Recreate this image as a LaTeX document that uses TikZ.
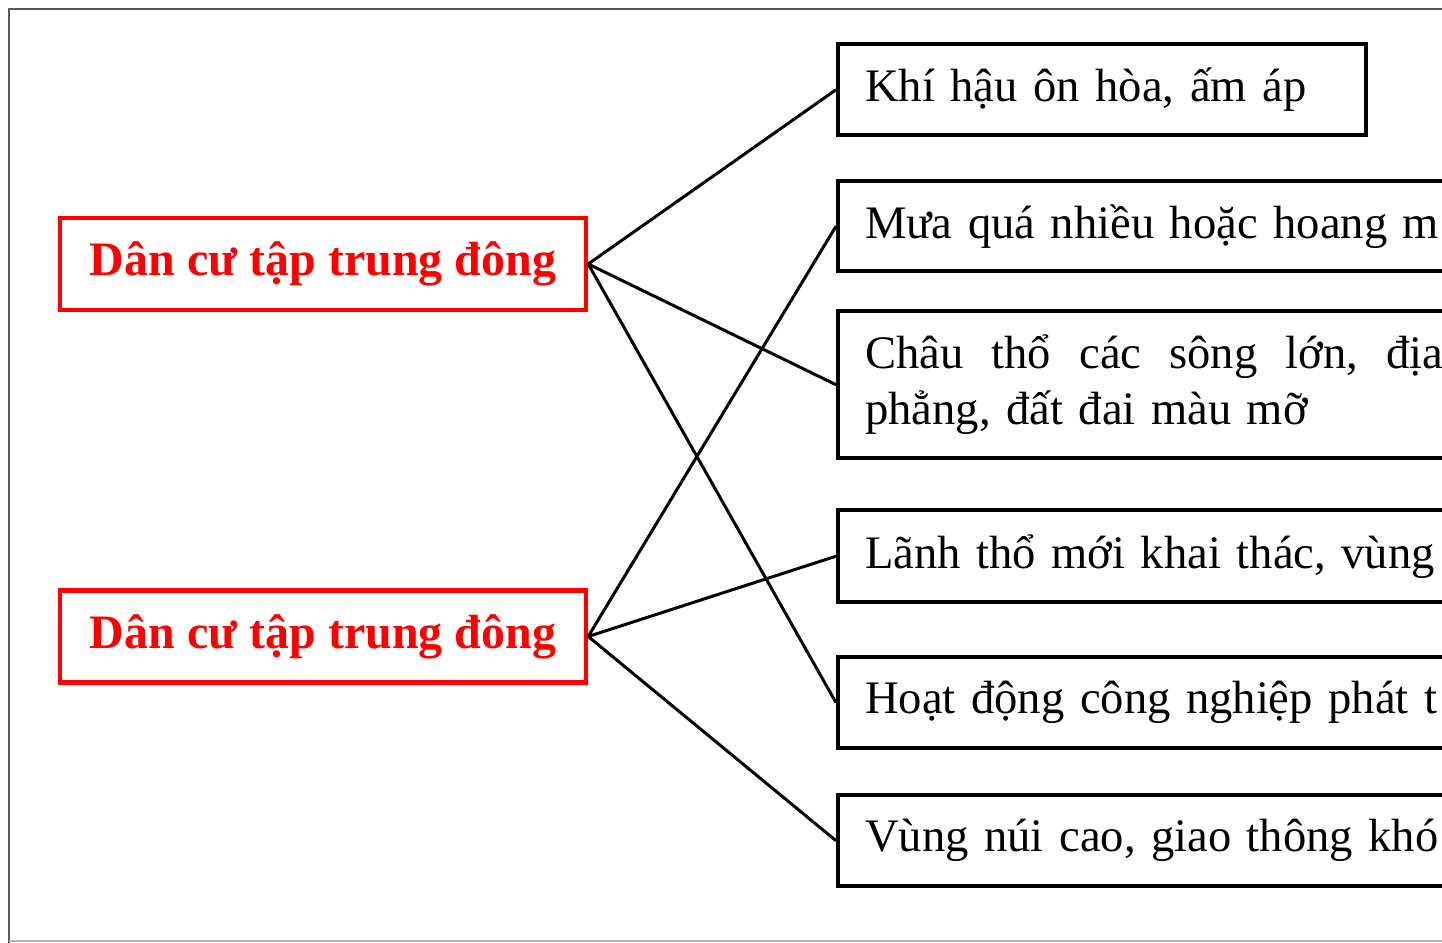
\documentclass[tikz,border=0pt]{standalone}
\usepackage{fontspec}
\setmainfont{Liberation Serif}
\usepackage{tikz}

\begin{document}
\begin{tikzpicture}[
            x = 0.5pt, y = -0.5pt, % one unit = one pixel
            every edge/.style = {draw=black, line width=1.5pt}, % connector style
            redbox/.style = {shape=rectangle, draw=red, line width=2.2pt, text=red,
                minimum width=263pt, minimum height=46pt,
                font=\fontsize{24}{28}\selectfont\bfseries},
            blackbox/.style = {shape=rectangle, draw=black, line width=2.2pt, anchor=north west,
                minimum width=400pt, text width=373pt, inner xsep=13.5pt, align=left,
                font=\fontsize{23.3}{28}\selectfont}
        ]
\useasboundingbox (0,0) rectangle (1442,943);
\clip (0,0) rectangle (1442,943);

% outer frame
\draw[black!65, line width=1pt] (9,960) -- (9,9) -- (1460,9);
\draw[black!30, line width=1pt] (9,941) -- (1460,941);

% left boxes
\node[redbox] (D1) at (323,264) {Dân cư tập trung đông};
\node[redbox] (D2) at (323,636.5) {Dân cư tập trung đông};

% right boxes
\node[blackbox, minimum width=264pt, text width=237pt, minimum height=45.5pt] (K) at (836,42) {Khí hậu ôn hòa, ấm áp};
\node[blackbox, minimum height=45pt] (M) at (836,179) {Mưa quá nhiều hoặc hoang m};
\node[blackbox, minimum height=73.5pt] (C) at (836,309)
    {\hbox to 289pt{Châu\hfill thổ\hfill các\hfill sông\hfill lớn,\hfill địa}\\ phẳng, đất đai màu mỡ};
\node[blackbox, minimum height=46pt] (L) at (836,508) {Lãnh thổ mới khai thác, vùng};
\node[blackbox, minimum height=45.5pt] (H) at (836,655) {Hoạt động công nghiệp phát t};
\node[blackbox, minimum height=45.5pt] (V) at (836,793) {Vùng núi cao, giao thông khó};

 \path (D1.east) edge (K.west);
 \path (D1.east) edge (C.west);
 \path (D1.east) edge (H.west);
 \path (D2.east) edge (M.west);
 \path (D2.east) edge (L.west);
 \path (D2.east) edge (V.west);

\end{tikzpicture}
\end{document}
